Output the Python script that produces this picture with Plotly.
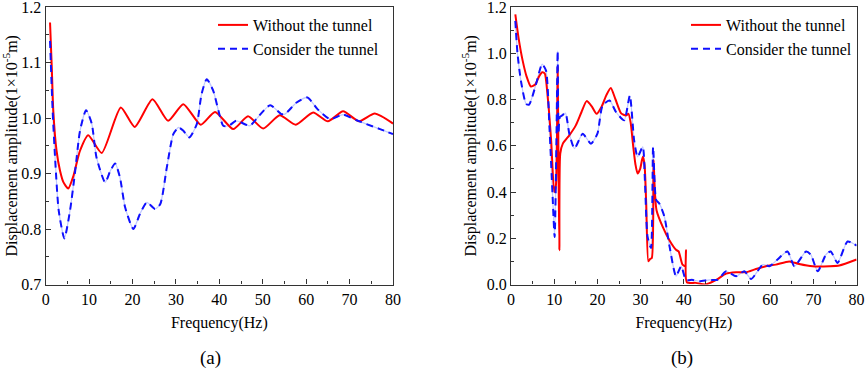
import plotly.graph_objects as go

# ---------------- Panel (a) data ----------------
a_red_f = [1, 1.4, 1.75, 2.5, 3.3, 4.1, 5.2, 6.4, 7.9, 9.8, 12.9, 17.3, 20.5, 24.6, 28.2,
           31.7, 35.7, 39, 43.2, 46.6, 50.1, 53.9, 57.6, 61.6, 65, 68.5, 72.2, 75.8, 80]
a_red_v = [1.172, 1.091, 1.013, 0.941, 0.905, 0.884, 0.873, 0.896, 0.941, 0.969, 0.937, 1.019, 0.984, 1.034, 0.995,
           1.025, 0.988, 1.011, 0.980, 1.003, 0.981, 1.005, 0.988, 1.010, 0.994, 1.012, 0.994, 1.008, 0.990]

a_blue_f = [1, 1.6, 2.2, 3, 4.3, 5.6, 6.8, 7.9, 9.3, 10.6, 11.7, 13.7, 14.9, 16, 17.1, 18.3, 20.2, 21.7,
            23.3, 25.2, 26.4, 27.9, 29.4, 30.6, 31.7, 33.1, 34.8, 35.9, 37.1, 38.6, 39.8, 40.9, 42.2,
            43.9, 47, 48.6, 51.7, 54.3, 55.1, 57.8, 60.3, 62.6, 65.5, 68.5, 71.6, 73.9, 77, 80]
a_blue_v = [1.139, 1.013, 0.923, 0.833, 0.783, 0.833, 0.905, 0.977, 1.014, 0.990, 0.929, 0.884, 0.905, 0.918, 0.893, 0.839, 0.800, 0.827,
            0.848, 0.836, 0.845, 0.911, 0.971, 0.983, 0.977, 0.965, 0.989, 1.043, 1.070, 1.049, 1.013, 0.986, 0.986,
            0.995, 0.986, 0.999, 1.023, 1.007, 1.007, 1.028, 1.037, 1.016, 0.998, 1.006, 0.996, 0.989, 0.980, 0.971]

# ---------------- Panel (b) data ----------------
b_red_f = [1, 1.8, 2.7, 3.6, 4.6, 5.6, 6.5, 7.2, 7.8, 8.5, 9.3, 10.0, 10.4, 10.8, 11.0, 11.2, 11.4,
           12, 13.5, 15, 16.3, 17.5, 18.7, 19.8, 21, 22.1, 23.1, 24.2, 25.5, 26.6, 27.2, 27.7,
           28.3, 28.8, 29.3, 29.9, 30.5, 30.9, 31.3, 31.8, 32.2, 32.6, 33.0, 33.3, 33.7, 35.1,
           36.7, 38.2, 38.8, 39.7, 40.3, 40.5, 40.7, 42.8, 45, 47.5, 49.8, 52.1, 54.4, 56.7,
           59, 61.3, 64.4, 66.7, 69.8, 73.7, 76, 80]
b_red_v = [1.168, 1.06, 0.968, 0.90, 0.856, 0.865, 0.90, 0.918, 0.913, 0.81, 0.62, 0.40, 0.43, 0.94, 0.50, 0.148, 0.566,
           0.609, 0.645, 0.688, 0.745, 0.793, 0.770, 0.738, 0.770, 0.820, 0.850, 0.800, 0.740, 0.731, 0.738, 0.700,
           0.595, 0.520, 0.480, 0.500, 0.552, 0.520, 0.350, 0.100, 0.110, 0.115, 0.538, 0.400, 0.320, 0.250,
           0.190, 0.150, 0.143, 0.086, 0.080, 0.148, 0.010, 0.007, 0.000, 0.020, 0.047, 0.053, 0.053, 0.067,
           0.079, 0.086, 0.100, 0.089, 0.079, 0.079, 0.082, 0.108]

b_blue_f = [1, 1.5, 2.3, 3.5, 4.2, 5.8, 7.2, 8.1, 8.9, 9.6, 10.1, 10.5, 10.8, 11.0, 11.3, 11.8, 12.6,
            13.5, 14.7, 16.6, 18.5, 20, 21.2, 22.8, 24.3, 26.2, 27.5, 28.5, 29.3, 30.5, 31.0, 31.6,
            32.4, 32.9, 33.6, 34.3, 35.5, 36.7, 38.2, 39.4, 40.5, 42, 43.6, 45.9, 47.8, 49.8, 52.1,
            54, 55.6, 58.3, 59.8, 61.7, 64, 65.6, 68.3, 69.4, 71, 72.9, 74, 75.6, 77.9, 80]
b_blue_v = [1.14, 1.0, 0.88, 0.781, 0.778, 0.867, 0.953, 0.925, 0.68, 0.394, 0.205, 0.60, 1.01, 0.652, 0.724, 0.731, 0.741,
            0.652, 0.588, 0.652, 0.609, 0.652, 0.774, 0.796, 0.746, 0.710, 0.817, 0.624, 0.552, 0.595, 0.450, 0.208,
            0.158, 0.595, 0.366, 0.351, 0.294, 0.165, 0.036, 0.079, 0.020, 0.020, 0.014, 0.020, 0.020, 0.057, 0.036,
            0.057, 0.024, 0.086, 0.079, 0.108, 0.143, 0.079, 0.143, 0.129, 0.057, 0.129, 0.143, 0.093, 0.186, 0.168]

# ---------------- tick labels ----------------
x_ticks = [0, 10, 20, 30, 40, 50, 60, 70, 80]
a_y_ticks = [0.7, 0.8, 0.9, 1.0, 1.1, 1.2]
a_y_labels = ["0.7", "0.8", "0.9", "1.0", "1.1", "1.2"]
b_y_ticks = [0.0, 0.2, 0.4, 0.6, 0.8, 1.0, 1.2]
b_y_labels = ["0.0", "0.2", "0.4", "0.6", "0.8", "1.0", "1.2"]

names = ["Without the tunnel", "Consider the tunnel"]
panel_labels = ["(a)", "(b)"]
x_title = "Frequency(Hz)"
y_title = "Displacement amplitude(1×10<sup>-5</sup>m)"

RED = "#ff0000"
BLUE = "#1010ff"
FAINT = "rgba(110,130,255,0.45)"
FONT = "Liberation Serif"
W, H = 865, 368

fig = go.Figure()

def add_panel(xa, ya, legend, rf, rv, bf, bv):
    fig.add_trace(go.Scatter(x=bf, y=bv, mode="lines", xaxis=xa, yaxis=ya, showlegend=False,
                             line=dict(color=FAINT, width=1.2, shape="spline", smoothing=0.6),
                             hoverinfo="skip"))
    fig.add_trace(go.Scatter(x=rf, y=rv, mode="lines", name=names[0], xaxis=xa, yaxis=ya, legend=legend,
                             line=dict(color=RED, width=2, shape="spline", smoothing=0.6)))
    fig.add_trace(go.Scatter(x=bf, y=bv, mode="lines", name=names[1], xaxis=xa, yaxis=ya, legend=legend,
                             line=dict(color=BLUE, width=2, dash="7px,5px", shape="spline", smoothing=0.6)))

add_panel("x", "y", "legend", a_red_f, a_red_v, a_blue_f, a_blue_v)
add_panel("x2", "y2", "legend2", b_red_f, b_red_v, b_blue_f, b_blue_v)

ydom = [1 - 284.5 / H, 1 - 7 / H]
axis_common = dict(showline=True, mirror=True, linecolor="#333333", linewidth=1.3,
                   ticks="inside", ticklen=5, tickwidth=1, tickcolor="#333333",
                   showgrid=False, zeroline=False, automargin=False,
                   ticklabeloverflow="allow",
                   tickfont=dict(family=FONT, size=16, color="black"))
minor_common = dict(ticks="inside", ticklen=3, tickcolor="#333333")

fig.update_layout(
    width=W, height=H,
    margin=dict(l=0, r=0, t=0, b=0, autoexpand=False),
    paper_bgcolor="white", plot_bgcolor="white",
    font=dict(family=FONT, size=16, color="black"),
    xaxis=dict(domain=[45.7 / W, 393 / W], range=[0, 80], tickvals=x_ticks, anchor="y",
               minor=dict(dtick=5, **minor_common),
               title=dict(text=x_title, font=dict(family=FONT, size=16), standoff=9),
               **axis_common),
    yaxis=dict(domain=ydom, range=[0.7, 1.2], tickvals=a_y_ticks, ticktext=a_y_labels, anchor="x",
               minor=dict(tick0=0.7, dtick=0.05, **minor_common),
               title=dict(text=y_title, font=dict(family=FONT, size=16), standoff=6),
               **axis_common),
    xaxis2=dict(domain=[511.0 / W, 856.6 / W], range=[0, 80], tickvals=x_ticks, anchor="y2",
                minor=dict(dtick=5, **minor_common),
                title=dict(text=x_title, font=dict(family=FONT, size=16), standoff=9),
                **axis_common),
    yaxis2=dict(domain=ydom, range=[0, 1.2], tickvals=b_y_ticks, ticktext=b_y_labels, anchor="x2",
                minor=dict(tick0=0, dtick=0.1, **minor_common),
                title=dict(text=y_title, font=dict(family=FONT, size=16), standoff=6),
                **axis_common),
    legend=dict(x=213 / W, y=1 - 8 / H, xanchor="left", yanchor="top",
                bgcolor="rgba(0,0,0,0)", font=dict(family=FONT, size=16),
                tracegroupgap=0, itemwidth=30),
    legend2=dict(x=686 / W, y=1 - 8 / H, xanchor="left", yanchor="top",
                 bgcolor="rgba(0,0,0,0)", font=dict(family=FONT, size=16),
                 tracegroupgap=0, itemwidth=30),
    showlegend=True,
)

for lbl, cx in zip(panel_labels, [210, 682]):
    fig.add_annotation(text=lbl, x=cx / W, y=1 - 358 / H, xref="paper", yref="paper",
                       showarrow=False, xanchor="center", yanchor="middle",
                       font=dict(family=FONT, size=19, color="black"))

fig.write_html("out.html",
               config={"displayModeBar": False},
               post_script="document.body.style.margin='0';document.body.style.overflow='hidden';")
